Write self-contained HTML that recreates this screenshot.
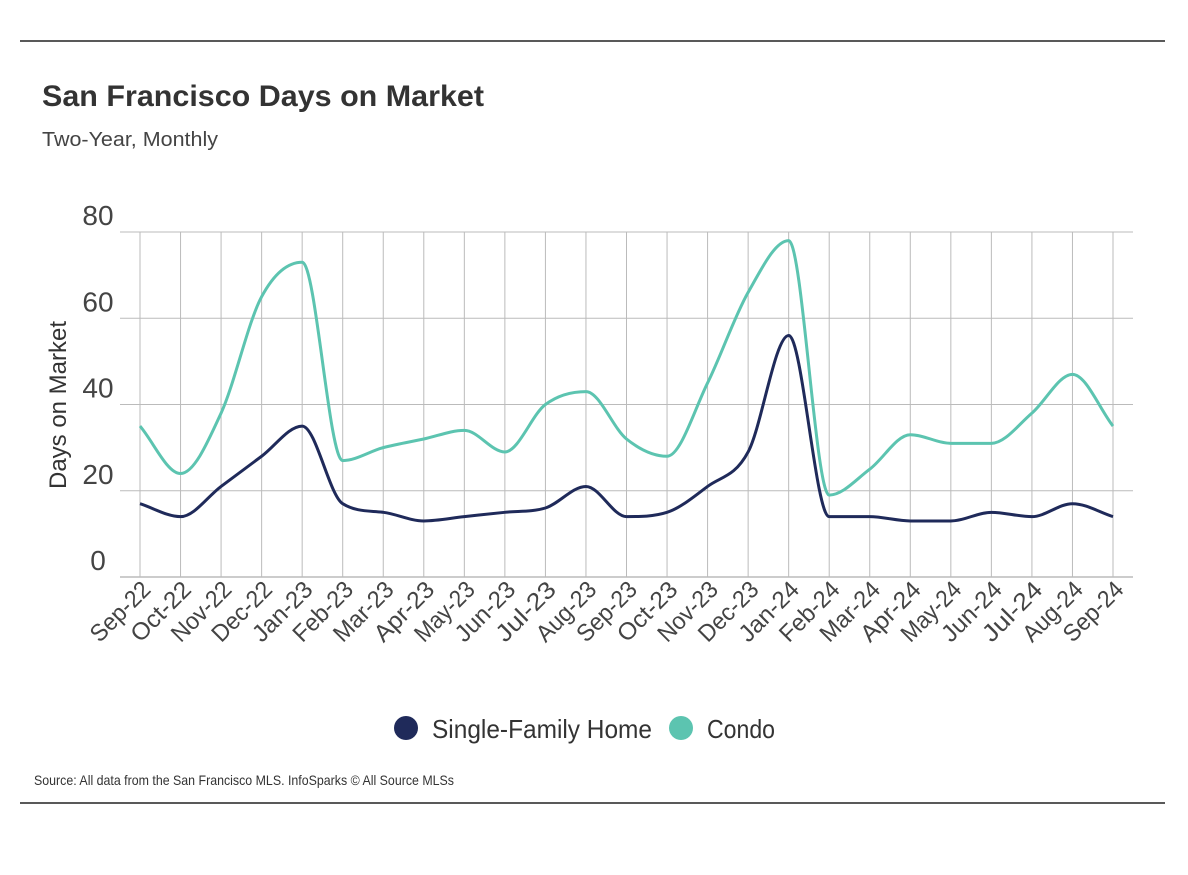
<!DOCTYPE html>
<html><head><meta charset="utf-8"><style>
body{margin:0;background:#fff;width:1188px;height:870px;overflow:hidden;font-family:"Liberation Sans",sans-serif;}
svg text{font-family:"Liberation Sans",sans-serif;}
</style></head><body>
<svg id="chart" width="1188" height="870" xmlns="http://www.w3.org/2000/svg">
<line x1="20" y1="41" x2="1165" y2="41" stroke="#222" stroke-width="1.5"/>
<text x="42" y="106" font-size="30" font-weight="bold" fill="#333" textLength="442" lengthAdjust="spacingAndGlyphs">San Francisco Days on Market</text>
<text x="42" y="146" font-size="20" fill="#444" textLength="176" lengthAdjust="spacingAndGlyphs">Two-Year, Monthly</text>
<g id="grid"></g>
<g id="xlabels"></g>
<g id="ylabels"></g>
<g id="series"></g>
<text transform="translate(66,405) rotate(-90)" text-anchor="middle" font-size="24" fill="#333" textLength="168" lengthAdjust="spacingAndGlyphs">Days on Market</text>
<circle cx="406" cy="728" r="12" fill="#1f2a5a"/>
<text x="432" y="738" font-size="26" fill="#333" textLength="220" lengthAdjust="spacingAndGlyphs">Single-Family Home</text>
<circle cx="681" cy="728" r="12" fill="#5cc4b0"/>
<text x="707" y="738" font-size="26" fill="#333" textLength="68" lengthAdjust="spacingAndGlyphs">Condo</text>
<text x="34" y="785" font-size="14" fill="#333" textLength="420" lengthAdjust="spacingAndGlyphs">Source:  All data from the San Francisco MLS. InfoSparks © All Source MLSs</text>
<line x1="20" y1="803" x2="1165" y2="803" stroke="#222" stroke-width="1.5"/>
</svg>
<script>
const categories=["Sep-22","Oct-22","Nov-22","Dec-22","Jan-23","Feb-23","Mar-23","Apr-23","May-23","Jun-23","Jul-23","Aug-23","Sep-23","Oct-23","Nov-23","Dec-23","Jan-24","Feb-24","Mar-24","Apr-24","May-24","Jun-24","Jul-24","Aug-24","Sep-24"];
const sfhValues=[17,14,21,28,35,17,15,13,14,15,16,21,14,15,21,29,56,14,14,13,13,15,14,17,14];
const condoValues=[35,24,38,65,73,27,30,32,34,29,40,43,32,28,45,66,78,19,25,33,31,31,38,47,35];
const yTicks=[0,20,40,60,80];
const NS="http://www.w3.org/2000/svg";
const x0=140,x1=1113,yTop=232,yBot=577,yMax=80;
function xs(i){return x0+(x1-x0)*i/(categories.length-1);}
function ys(v){return yBot-(yBot-yTop)*v/yMax;}
function mk(tag,attrs,parent){const e=document.createElementNS(NS,tag);for(const k in attrs)e.setAttribute(k,attrs[k]);parent.appendChild(e);return e;}
const grid=document.getElementById('grid'),xl=document.getElementById('xlabels'),yl=document.getElementById('ylabels'),ser=document.getElementById('series');
yTicks.forEach(t=>{
  const l=mk('line',{x1:120,x2:1133,y1:ys(t),y2:ys(t),stroke:t===0?'#999':'#bbb','stroke-width':1},grid);
  
  
  const tx=mk('text',{x:98,y:ys(t)-7,'text-anchor':'middle','font-size':28,fill:'#444'},yl);
  tx.textContent=t;
  
  
});
categories.forEach((c,i)=>{
  const l=mk('line',{x1:xs(i),x2:xs(i),y1:yTop,y2:yBot,stroke:'#bbb','stroke-width':1},grid);
  
  
  const tx=mk('text',{transform:`translate(${xs(i)+12},${yBot+14}) rotate(-45)`,'text-anchor':'end','font-size':24,fill:'#444',textLength:74,lengthAdjust:'spacingAndGlyphs'},xl);
  tx.textContent=c;
  
  
});
function pathFor(vals){
  const p=vals.map((v,i)=>[xs(i),ys(v)]);
  const n=p.length,d=[],m=[];
  for(let i=0;i<n-1;i++)d.push((p[i+1][1]-p[i][1])/(p[i+1][0]-p[i][0]));
  m[0]=d[0];m[n-1]=d[n-2];
  for(let i=1;i<n-1;i++){m[i]=(d[i-1]*d[i]<=0)?0:(d[i-1]+d[i])/2;}
  for(let i=0;i<n-1;i++){
    if(d[i]===0){m[i]=0;m[i+1]=0;continue;}
    const a=m[i]/d[i],b=m[i+1]/d[i],s=a*a+b*b;
    if(s>9){const t=3/Math.sqrt(s);m[i]=t*a*d[i];m[i+1]=t*b*d[i];}
  }
  let s=`M${p[0][0]},${p[0][1]}`;
  for(let i=0;i<n-1;i++){
    const h=(p[i+1][0]-p[i][0])/3;
    s+=` C${p[i][0]+h},${p[i][1]+m[i]*h} ${p[i+1][0]-h},${p[i+1][1]-m[i+1]*h} ${p[i+1][0]},${p[i+1][1]}`;
  }
  return s;
}
const pc=mk('path',{d:pathFor(condoValues),fill:'none',stroke:'#5cc4b0','stroke-width':3},ser);


const ps=mk('path',{d:pathFor(sfhValues),fill:'none',stroke:'#1f2a5a','stroke-width':3},ser);


</script>
</body></html>
